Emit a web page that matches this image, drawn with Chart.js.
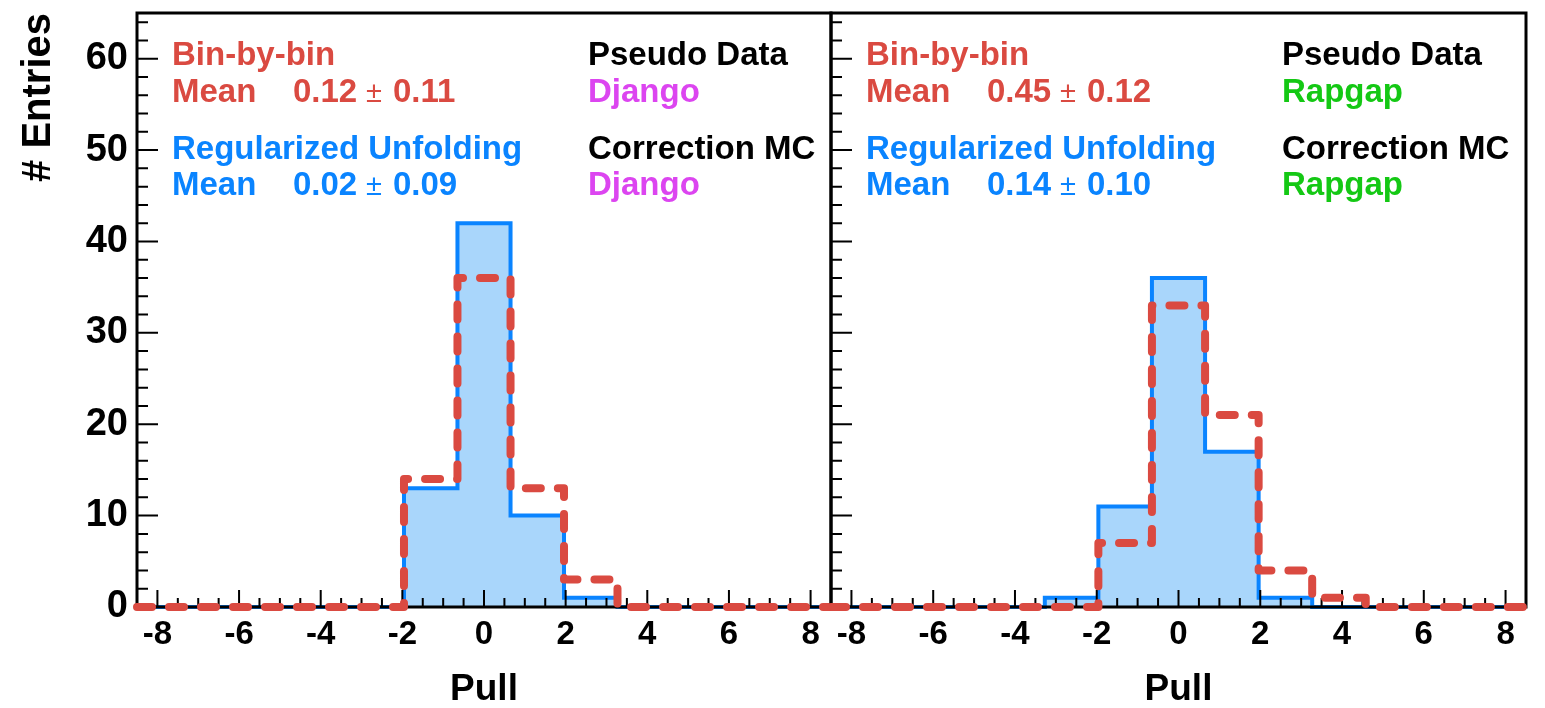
<!DOCTYPE html>
<html>
<head>
<meta charset="utf-8">
<script src="https://cdn.jsdelivr.net/npm/chart.js@4/dist/chart.umd.min.js"></script>
<style>
  body { margin: 0; background: #fff; width: 1545px; height: 708px; overflow: hidden; position: relative; }
  canvas { position: absolute; top: 0; }
  #painelDjango { left: 0; }
  #painelRapgap { left: 800px; }
</style>
</head>
<body>
<canvas id="painelDjango" width="845" height="708"></canvas>
<canvas id="painelRapgap" width="745" height="708"></canvas>
<script>
// bordas dos 13 bins do pull
const bordasBins = [-8.5, -7.19, -5.88, -4.58, -3.27, -1.96, -0.65, 0.65, 1.96, 3.27, 4.58, 5.88, 7.19, 8.5];

// entradas por bin
const djangoUnfolding = [0, 0, 0, 0, 0, 13, 42, 10, 1, 0, 0, 0, 0];
const djangoBinByBin  = [0, 0, 0, 0, 0, 14, 36, 13, 3, 0, 0, 0, 0];
const rapgapUnfolding = [0, 0, 0, 0, 1, 11, 36, 17, 1, 0, 0, 0, 0];
const rapgapBinByBin  = [0, 0, 0, 0, 0, 7, 33, 21, 4, 1, 0, 0, 0];

const ticksX = [-8, -6, -4, -2, 0, 2, 4, 6, 8];
const ticksY = [0, 10, 20, 30, 40, 50, 60];

// médias [valor, erro] de cada método
const mediaBinByBin  = [['0.12', '0.11'], ['0.45', '0.12']];
const mediaUnfolding = [['0.02', '0.09'], ['0.14', '0.10']];

const geradores    = ['Django', 'Rapgap'];
const coresGerador = ['#dc45f0', '#14c814'];

const vermelho  = '#da4a41';
const azul      = '#0a84ff';
const azulClaro = '#a9d6fb';

const fonteTexto = 'bold 33px "Liberation Sans", Arial, sans-serif';
const fontePm    = '29px "Liberation Sans", Arial, sans-serif';

function pontosHistograma(valores) {
    const pts = valores.map((v, i) => ({ x: bordasBins[i], y: v }));
    pts.push({ x: bordasBins[bordasBins.length - 1], y: valores[valores.length - 1] });
    return pts;
}

// moldura e ticks internos (maiores e menores), desenhados logo depois do histograma azul
const molduraTicks = {
    id: 'molduraTicks',
    afterDatasetDraw(chart, args) {
        if (args.index !== 1) return;
        const { ctx, chartArea: a, scales: { x, y } } = chart;
        ctx.save();
        ctx.strokeStyle = '#000';
        ctx.lineWidth = 2;
        ctx.beginPath();
        for (let v = -8; v <= 8; v += 0.5) {
            const px = x.getPixelForValue(v);
            const len = v % 2 === 0 ? 17 : 9;
            ctx.moveTo(px, a.bottom);
            ctx.lineTo(px, a.bottom - len);
        }
        for (let v = 2; v <= 64; v += 2) {
            const py = y.getPixelForValue(v);
            const len = v % 10 === 0 ? 21 : 11;
            ctx.moveTo(a.left, py);
            ctx.lineTo(a.left + len, py);
        }
        ctx.stroke();
        ctx.lineWidth = 3;
        ctx.strokeRect(a.left, a.top, a.right - a.left, a.bottom - a.top);
        ctx.restore();
    }
};

// textos com as médias e os geradores
const textos = {
    id: 'textos',
    afterDraw(chart, args, opts) {
        const { ctx, chartArea: a } = chart;
        ctx.save();
        ctx.textBaseline = 'alphabetic';
        opts.linhas.forEach(l => {
            ctx.font = l.fonte || fonteTexto;
            ctx.fillStyle = l.cor;
            ctx.fillText(l.texto, a.left + l.dx, a.top + l.dy);
        });
        ctx.restore();
    }
};

function linhasTexto(i) {
    const esq = 35;
    const dir = 451;
    return [
        { texto: 'Bin-by-bin', cor: vermelho, dx: esq, dy: 52 },
        { texto: 'Mean', cor: vermelho, dx: esq, dy: 89 },
        { texto: mediaBinByBin[i][0], cor: vermelho, dx: 156, dy: 89 },
        { texto: '±', cor: vermelho, dx: 229, dy: 89, fonte: fontePm },
        { texto: mediaBinByBin[i][1], cor: vermelho, dx: 256, dy: 89 },
        { texto: 'Regularized Unfolding', cor: azul, dx: esq, dy: 146 },
        { texto: 'Mean', cor: azul, dx: esq, dy: 182 },
        { texto: mediaUnfolding[i][0], cor: azul, dx: 156, dy: 182 },
        { texto: '±', cor: azul, dx: 229, dy: 182, fonte: fontePm },
        { texto: mediaUnfolding[i][1], cor: azul, dx: 256, dy: 182 },
        { texto: 'Pseudo Data', cor: '#000', dx: dir, dy: 52 },
        { texto: geradores[i], cor: coresGerador[i], dx: dir, dy: 89 },
        { texto: 'Correction MC', cor: '#000', dx: dir, dy: 146 },
        { texto: geradores[i], cor: coresGerador[i], dx: dir, dy: 182 }
    ];
}

function criarPainel(canvasId, i, unfolding, binByBin, comEixoY, padding) {
    return new Chart(document.getElementById(canvasId), {
        type: 'line',
        data: {
            datasets: [
                {
                    data: pontosHistograma(binByBin),
                    stepped: 'before',
                    borderColor: vermelho,
                    borderWidth: 8,
                    borderDash: [15, 17],
                    borderCapStyle: 'round',
                    borderJoinStyle: 'round',
                    pointRadius: 0,
                    fill: false,
                    clip: 10
                },
                {
                    data: pontosHistograma(unfolding),
                    stepped: 'before',
                    borderColor: azul,
                    backgroundColor: azulClaro,
                    borderWidth: 4,
                    borderJoinStyle: 'miter',
                    pointRadius: 0,
                    fill: 'origin',
                    clip: 10
                }
            ]
        },
        options: {
            responsive: false,
            animation: false,
            layout: { padding: padding },
            plugins: {
                legend: { display: false },
                tooltip: { enabled: false },
                textos: { linhas: linhasTexto(i) }
            },
            scales: {
                x: {
                    type: 'linear',
                    min: -8.5,
                    max: 8.5,
                    grid: { display: false, drawTicks: false },
                    border: { display: false },
                    afterBuildTicks: s => { s.ticks = ticksX.map(v => ({ value: v })); },
                    afterFit: s => { s.height = 101; s.paddingLeft = 0; s.paddingRight = 0; },
                    ticks: {
                        color: '#000',
                        padding: 8,
                        maxRotation: 0,
                        autoSkip: false,
                        font: { family: '"Liberation Sans"', weight: 'bold', size: 33 }
                    },
                    title: {
                        display: true,
                        text: 'Pull',
                        color: '#000',
                        padding: { top: 0, bottom: 0 },
                        font: { family: '"Liberation Sans"', weight: 'bold', size: 37, lineHeight: 1 }
                    }
                },
                y: {
                    min: 0,
                    max: 65,
                    grid: { display: false, drawTicks: false },
                    border: { display: false },
                    afterBuildTicks: s => { s.ticks = ticksY.map(v => ({ value: v })); },
                    afterFit: s => {
                        s.width = comEixoY ? 137 : 0;
                        s.paddingTop = 0;
                        s.paddingBottom = 0;
                    },
                    ticks: {
                        display: comEixoY,
                        color: '#000',
                        padding: 9,
                        font: { family: '"Liberation Sans"', weight: 'bold', size: 38 }
                    },
                    title: {
                        display: comEixoY,
                        text: '# Entries',
                        align: 'end',
                        color: '#000',
                        padding: { top: 19, bottom: 0 },
                        font: { family: '"Liberation Sans"', weight: 'bold', size: 40, lineHeight: 1 }
                    }
                }
            }
        },
        plugins: [molduraTicks, textos]
    });
}

criarPainel('painelDjango', 0, djangoUnfolding, djangoBinByBin, true, { top: 13, right: 14, left: 0, bottom: 0 });
criarPainel('painelRapgap', 1, rapgapUnfolding, rapgapBinByBin, false, { top: 13, right: 19, left: 31, bottom: 0 });
</script>
</body>
</html>
